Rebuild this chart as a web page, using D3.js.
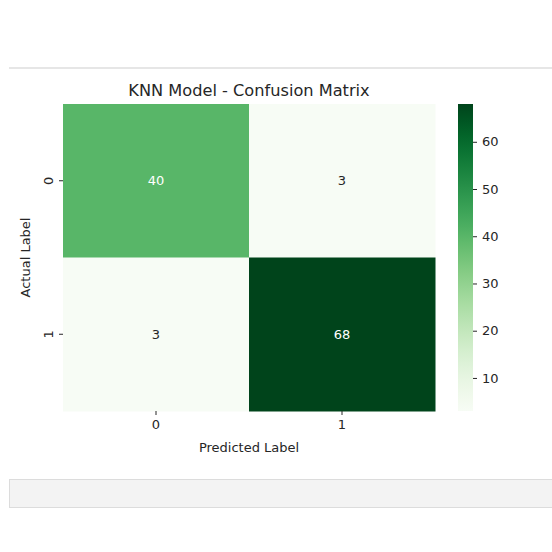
<!DOCTYPE html>
<html><head><meta charset="utf-8">
<script src="https://cdn.jsdelivr.net/npm/d3@7"></script>
<style>body{margin:0;background:#fff;font-family:"DejaVu Sans",sans-serif;}</style>
</head><body>
<script>
// data
var actualLabels = ["0", "1"],
    predictedLabels = ["0", "1"],
    counts = [[40, 3], [3, 68]],
    cbarTicks = [10, 20, 30, 40, 50, 60];

var W = 552, H = 552,
    mLeft = 63, mRight = 435, mTop = 104, mBottom = 411,
    cbX = 458, cbW = 15;

var svg = d3.select("body").append("svg").attr("width", W).attr("height", H);

// page chrome
svg.append("rect").attr("x", 9).attr("y", 67).attr("width", W - 9).attr("height", 2).attr("fill", "#e6e6e6");
svg.append("rect").attr("x", 9.5).attr("y", 479.5).attr("width", W - 9).attr("height", 28)
    .attr("fill", "#f3f3f3").attr("stroke", "#dcdcdc");

var cells = [];
counts.forEach(function(row, i){ row.forEach(function(v, j){ cells.push({i: i, j: j, v: v}); }); });
var vmin = d3.min(cells, d => d.v), vmax = d3.max(cells, d => d.v);

var x = d3.scaleBand().domain(predictedLabels).range([mLeft, mRight]);
var y = d3.scaleBand().domain(actualLabels).range([mTop, mBottom]);
var color = d3.scaleSequential(d3.interpolateGreens).domain([vmin, vmax]);

svg.selectAll(".cell").data(cells).enter().append("rect")
    .attr("x", d => x(predictedLabels[d.j]))
    .attr("y", d => y(actualLabels[d.i]))
    .attr("width", x.bandwidth() + 0.5).attr("height", y.bandwidth() + 0.5)
    .attr("fill", d => color(d.v));

svg.selectAll(".annot").data(cells).enter().append("text")
    .attr("x", d => x(predictedLabels[d.j]) + x.bandwidth() / 2)
    .attr("y", d => y(actualLabels[d.i]) + y.bandwidth() / 2)
    .attr("dy", "0.35em").attr("text-anchor", "middle").attr("font-size", 13)
    .attr("fill", d => d.v > 30 ? "#fff" : "#262626")
    .text(d => d.v);

// axes
var xa = svg.append("g").attr("transform", "translate(0," + mBottom + ")")
    .call(d3.axisBottom(x).tickSize(4).tickPadding(5));
var ya = svg.append("g").attr("transform", "translate(" + mLeft + ",0)")
    .call(d3.axisLeft(y).tickSize(4).tickPadding(5));
[xa, ya].forEach(function(g){
    g.select(".domain").remove();
    g.selectAll("text").attr("font-size", 13).attr("fill", "#262626").attr("font-family", "DejaVu Sans");
    g.selectAll("line").attr("stroke", "#262626");
});
ya.selectAll("text").attr("text-anchor", "middle").attr("dy", null)
    .attr("transform", "translate(-14,0) rotate(-90)").attr("x", 0).attr("y", 0)
    .attr("dominant-baseline", "middle");

svg.append("text").attr("x", (mLeft + mRight) / 2).attr("y", 452).attr("text-anchor", "middle")
    .attr("font-size", 13).attr("fill", "#262626").text("Predicted Label");
svg.append("text").attr("transform", "translate(30," + (mTop + mBottom) / 2 + ") rotate(-90)")
    .attr("text-anchor", "middle").attr("font-size", 13).attr("fill", "#262626").text("Actual Label");
svg.append("text").attr("x", (mLeft + mRight) / 2).attr("y", 96).attr("text-anchor", "middle")
    .attr("font-size", 16.2).attr("fill", "#262626").text("KNN Model - Confusion Matrix");

// colorbar
var cy = d3.scaleLinear().domain([vmin, vmax]).range([mBottom, mTop]);
var grad = svg.append("defs").append("linearGradient").attr("id", "cb")
    .attr("x1", 0).attr("y1", 1).attr("x2", 0).attr("y2", 0);
d3.range(0, 1.001, 0.05).forEach(function(t){
    grad.append("stop").attr("offset", t).attr("stop-color", color(vmin + t * (vmax - vmin)));
});
svg.append("rect").attr("x", cbX).attr("y", mTop).attr("width", cbW).attr("height", mBottom - mTop).attr("fill", "url(#cb)");
var ca = svg.append("g").attr("transform", "translate(" + (cbX + cbW) + ",0)")
    .call(d3.axisRight(cy).tickValues(cbarTicks).tickSize(4).tickPadding(5));
ca.select(".domain").remove();
ca.selectAll("text").attr("font-size", 13).attr("fill", "#262626").attr("font-family", "DejaVu Sans");
ca.selectAll("line").attr("stroke", "#262626");
</script>
</body></html>
